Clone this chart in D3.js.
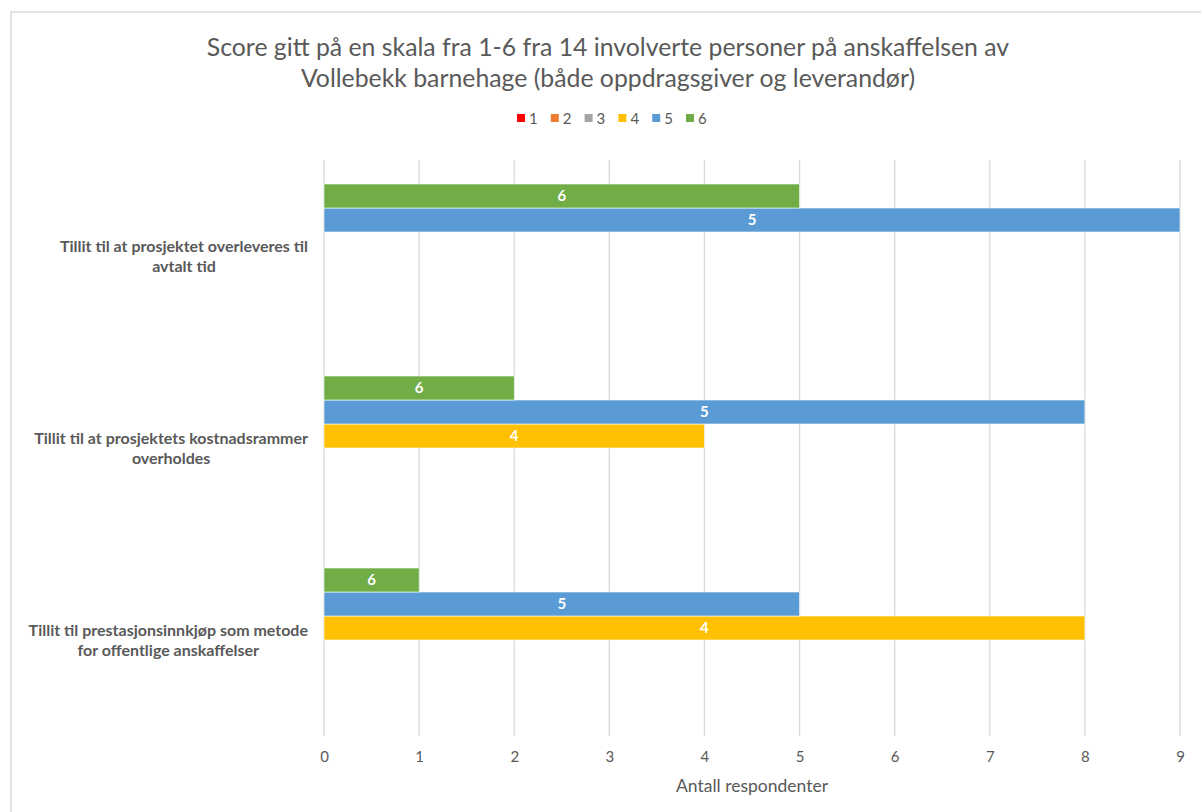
<!DOCTYPE html>
<html><head><meta charset="utf-8">
<script src="https://cdn.jsdelivr.net/npm/d3@7"></script>
<style>html,body{margin:0;padding:0;background:#fff;}svg{display:block;}</style>
</head><body>
<svg id="c" width="1201" height="812"></svg>
<script>
const titleLines = ["Score gitt på en skala fra 1-6 fra 14 involverte personer på anskaffelsen av", "Vollebekk barnehage (både oppdragsgiver og leverandør)"];
const categories = [
  ["Tillit til at prosjektet overleveres til", "avtalt tid"],
  ["Tillit til at prosjektets kostnadsrammer", "overholdes"],
  ["Tillit til prestasjonsinnkjøp som metode", "for offentlige anskaffelser"]
];
const seriesNames = ["1", "2", "3", "4", "5", "6"];
const seriesColors = ["#FF0000", "#ED7D31", "#A5A5A5", "#FFC000", "#5B9BD5", "#70AD47"];
// values[category][series]
const values1 = [0, 0, 0, 0, 9, 5];
const values2 = [0, 0, 0, 4, 8, 2];
const values3 = [0, 0, 0, 8, 5, 1];
const values = [values1, values2, values3];
const xTicks = [0, 1, 2, 3, 4, 5, 6, 7, 8, 9];
const xTitle = "Antall respondenter";

const FONT = "Lato, 'Open Sans', sans-serif";
const svg = d3.select("#c");
svg.append("rect").attr("x", 11).attr("y", 12).attr("width", 1220).attr("height", 830)
  .attr("fill", "#fff").attr("stroke", "#d9d9d9").attr("stroke-width", 1.5);

const x = d3.scaleLinear().domain([0, 9]).range([324, 1180]);
const y = d3.scaleBand().domain(d3.range(categories.length)).range([160, 736]).paddingInner(0).paddingOuter(0);
const ys = d3.scaleBand().domain(seriesNames.slice().reverse()).range([0, y.bandwidth()]).paddingInner(0).paddingOuter(1);

// title
svg.append("g").selectAll("text").data(titleLines).join("text")
  .attr("x", 608).attr("y", (d, i) => 56 + i * 31)
  .attr("text-anchor", "middle").attr("font-family", FONT).attr("font-size", 24.8)
  .attr("fill", "#595959").text(d => d);

// legend
const lg = svg.append("g");
seriesNames.forEach((s, i) => {
  const lx = 517 + i * 33.8;
  lg.append("rect").attr("x", lx).attr("y", 114).attr("width", 8).attr("height", 8).attr("fill", seriesColors[i]);
  lg.append("text").attr("x", lx + 12).attr("y", 123.5).attr("font-family", FONT).attr("font-size", 15)
    .attr("fill", "#595959").text(s);
});

// gridlines
svg.append("g").selectAll("line").data(xTicks).join("line")
  .attr("x1", d => x(d)).attr("x2", d => x(d)).attr("y1", 160).attr("y2", 736)
  .attr("stroke", "#d9d9d9").attr("stroke-width", 1.3);

// x axis
const xAxis = d3.axisBottom(x).tickValues(xTicks).tickSize(0).tickPadding(15).tickFormat(d3.format("d"));
const ax = svg.append("g").attr("transform", "translate(0,736)").call(xAxis);
ax.select(".domain").remove();
ax.selectAll("text").attr("font-family", FONT).attr("font-size", 15).attr("fill", "#595959");

svg.append("text").attr("x", 752).attr("y", 792).attr("text-anchor", "middle")
  .attr("font-family", FONT).attr("font-size", 17.5).attr("fill", "#595959").text(xTitle);

// bars
const bars = svg.append("g");
values.forEach((vals, ci) => {
  vals.forEach((v, si) => {
    const s = seriesNames[si];
    const by = y(ci) + ys(s);
    if (v > 0) {
      bars.append("rect").attr("x", x(0)).attr("y", by).attr("width", x(v) - x(0)).attr("height", ys.bandwidth())
        .attr("fill", seriesColors[si]).attr("stroke", "#fff").attr("stroke-width", 0.6);
      bars.append("text").attr("x", (x(0) + x(v)) / 2).attr("y", by + ys.bandwidth() / 2 + 5)
        .attr("text-anchor", "middle").attr("font-family", FONT).attr("font-size", 15).attr("font-weight", "bold")
        .attr("fill", "#fff").text(s);
    }
  });
});

// category labels: block centered lines, block right edge at 308
const cg = svg.append("g");
categories.forEach((lines, ci) => {
  const cy = y(ci) + y.bandwidth() / 2;
  const g = cg.append("g");
  const texts = lines.map((l, li) => g.append("text")
    .attr("y", cy + (li - (lines.length - 1) / 2) * 20 + 5.5)
    .attr("font-family", FONT).attr("font-size", 16).attr("font-weight", "bold").attr("fill", "#595959")
    .attr("text-anchor", "middle").text(l));
  const w = d3.max(texts, t => t.node().getComputedTextLength());
  texts.forEach(t => t.attr("x", 308 - w / 2));
});
</script>
</body></html>
